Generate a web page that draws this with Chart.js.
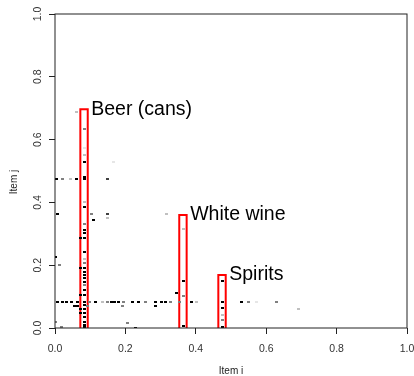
<!DOCTYPE html>
<html lang="en">
<head>
    <meta charset="UTF-8" />
    <title>Item co-occurrence</title>
    <script src="https://cdn.jsdelivr.net/npm/chart.js"></script>
    <style>
        body { margin: 0; background: #fff; }
        canvas { display: block; }
    </style>
</head>
<body>

<canvas id="itemChart" width="414" height="376"></canvas>

<script>
    // axis ticks
    const tickValues = [0, 0.2, 0.4, 0.6, 0.8, 1.0];

    // matrix cells [item i, item j], grouped by shade
    const cellsBlack = [
        [0.085, 0.529], [0.085, 0.481], [0.085, 0.385], [0.085, 0.312], [0.085, 0.303],
        [0.085, 0.287], [0.085, 0.242], [0.085, 0.191], [0.085, 0.178], [0.085, 0.169],
        [0.085, 0.159], [0.085, 0.146], [0.085, 0.121], [0.085, 0.105], [0.085, 0.083],
        [0.085, 0.073], [0.085, 0.061], [0.085, 0.048], [0.085, 0.035], [0.085, 0.019],
        [0.085, 0.010], [0.085, 0.003],
        [0.072, 0.287], [0.072, 0.191], [0.072, 0.105], [0.072, 0.061], [0.072, 0.048],
        [0.006, 0.083], [0.020, 0.083], [0.034, 0.083], [0.048, 0.083], [0.063, 0.083],
        [0.114, 0.083], [0.161, 0.083], [0.170, 0.083], [0.179, 0.083], [0.219, 0.083],
        [0.238, 0.083], [0.285, 0.083], [0.303, 0.083], [0.315, 0.083], [0.387, 0.083],
        [0.476, 0.083], [0.530, 0.083],
        [0.056, 0.070], [0.063, 0.070], [0.285, 0.070],
        [0.004, 0.475], [0.061, 0.475], [0.085, 0.475],
        [0.006, 0.363], [0.110, 0.344], [0.002, 0.227], [0.229, 0.001],
        [0.364, 0.150], [0.364, 0.006], [0.345, 0.110],
        [0.476, 0.151], [0.476, 0.063], [0.476, 0.002]
    ];
    const cellsDark = [
        [0.150, 0.475], [0.150, 0.363]
    ];
    const cellsMid = [
        [0.085, 0.634], [0.085, 0.331], [0.085, 0.207], [0.085, 0.137],
        [0.098, 0.083], [0.148, 0.083], [0.195, 0.083], [0.258, 0.083], [0.329, 0.083],
        [0.355, 0.083], [0.550, 0.083], [0.630, 0.083],
        [0.091, 0.070], [0.191, 0.070],
        [0.022, 0.475], [0.103, 0.363],
        [0.013, 0.201], [0.002, 0.020], [0.018, 0.002], [0.205, 0.015],
        [0.364, 0.102], [0.476, 0.024]
    ];
    const cellsLight = [
        [0.085, 0.551], [0.085, 0.401], [0.085, 0.220],
        [0.134, 0.083], [0.402, 0.083], [0.043, 0.475],
        [0.062, 0.688], [0.150, 0.351], [0.317, 0.364],
        [0.364, 0.314], [0.476, 0.041], [0.692, 0.061]
    ];
    const cellsFaint = [
        [0.085, 0.573], [0.167, 0.530], [0.573, 0.083]
    ];

    // highlighted items
    const highlightNames = ['Beer (cans)', 'White wine', 'Spirits'];
    const highlightLeft = [0.072, 0.353, 0.464];
    const highlightRight = [0.093, 0.374, 0.485];
    const highlightTop = [0.697, 0.360, 0.169];

    const FONT = "'Liberation Sans', Arial, Helvetica, sans-serif";

    // small 3x2 block used as the point marker
    function cellImage(color) {
        const c = document.createElement('canvas');
        c.width = 3;
        c.height = 2;
        const g = c.getContext('2d');
        g.fillStyle = color;
        g.fillRect(0, 0, 3, 2);
        return c;
    }

    function cellDataset(cells, color) {
        return {
            type: 'scatter',
            data: cells.map(p => ({ x: p[0], y: p[1] })),
            pointStyle: cellImage(color),
            pointRadius: 2,
            pointHoverRadius: 2,
            showLine: false
        };
    }

    const boxDatasets = highlightNames.map((name, i) => ({
        type: 'line',
        label: name,
        data: [
            { x: highlightLeft[i], y: 0 },
            { x: highlightLeft[i], y: highlightTop[i] },
            { x: highlightRight[i], y: highlightTop[i] },
            { x: highlightRight[i], y: 0 }
        ],
        borderColor: '#ff0000',
        borderWidth: 2,
        pointRadius: 0,
        tension: 0,
        fill: false
    }));

    // frame around the plot and the item names next to the boxes
    const framePlugin = {
        id: 'frame',
        afterDatasetsDraw(chart) {
            const { ctx, chartArea, scales } = chart;
            ctx.save();
            ctx.strokeStyle = '#222';
            ctx.lineWidth = 1;
            ctx.strokeRect(chartArea.left, chartArea.top,
                chartArea.right - chartArea.left, chartArea.bottom - chartArea.top);

            ctx.fillStyle = '#000';
            ctx.font = '19.5px ' + FONT;
            ctx.textBaseline = 'alphabetic';
            ctx.textAlign = 'left';
            highlightNames.forEach((name, i) => {
                const x = scales.x.getPixelForValue(highlightRight[i]) + 3.5;
                const y = scales.y.getPixelForValue(highlightTop[i]) + 5.5;
                ctx.fillText(name, x, y);
            });

            // y axis title
            ctx.font = '10px ' + FONT;
            ctx.fillStyle = '#222';
            ctx.translate(14, 182);
            ctx.rotate(-Math.PI / 2);
            ctx.textAlign = 'center';
            ctx.textBaseline = 'middle';
            ctx.fillText('Item j', 0, 0);
            ctx.restore();
        }
    };

    const ctx = document.getElementById('itemChart').getContext('2d');
    new Chart(ctx, {
        data: {
            datasets: [
                cellDataset(cellsFaint, '#e6e6e6'),
                cellDataset(cellsLight, '#c0c0c0'),
                cellDataset(cellsMid, '#808080'),
                cellDataset(cellsDark, '#404040'),
                cellDataset(cellsBlack, '#000000'),
                ...boxDatasets
            ]
        },
        options: {
            responsive: false,
            animation: false,
            events: [],
            layout: { padding: { top: 14, right: 0, left: 0, bottom: 0 } },
            plugins: {
                legend: { display: false },
                tooltip: { enabled: false }
            },
            scales: {
                x: {
                    type: 'linear',
                    min: 0,
                    max: 1,
                    afterFit(scale) {
                        scale.height = 48;
                        scale.paddingLeft = 7;
                        scale.paddingRight = 7;
                    },
                    afterBuildTicks(scale) { scale.ticks = tickValues.map(v => ({ value: v })); },
                    grid: { drawOnChartArea: false, tickLength: 6, color: '#222' },
                    border: { display: false },
                    ticks: {
                        padding: 9,
                        color: '#333',
                        font: { family: FONT, size: 10.5 },
                        maxRotation: 0,
                        callback: v => v.toFixed(1)
                    },
                    title: {
                        display: true,
                        text: 'Item i',
                        color: '#222',
                        font: { family: FONT, size: 10, lineHeight: 1 },
                        padding: { top: 0, bottom: 0 }
                    }
                },
                y: {
                    type: 'linear',
                    min: 0,
                    max: 1,
                    afterFit(scale) { scale.width = 55; },
                    afterBuildTicks(scale) { scale.ticks = tickValues.map(v => ({ value: v })); },
                    grid: { drawOnChartArea: false, tickLength: 6, color: '#222' },
                    border: { display: false },
                    ticks: {
                        padding: 4,
                        color: '#333',
                        font: { family: FONT, size: 10.5 },
                        minRotation: 90,
                        maxRotation: 90,
                        crossAlign: 'center',
                        callback: v => v.toFixed(1)
                    }
                }
            }
        },
        plugins: [framePlugin]
    });
</script>

</body>
</html>
